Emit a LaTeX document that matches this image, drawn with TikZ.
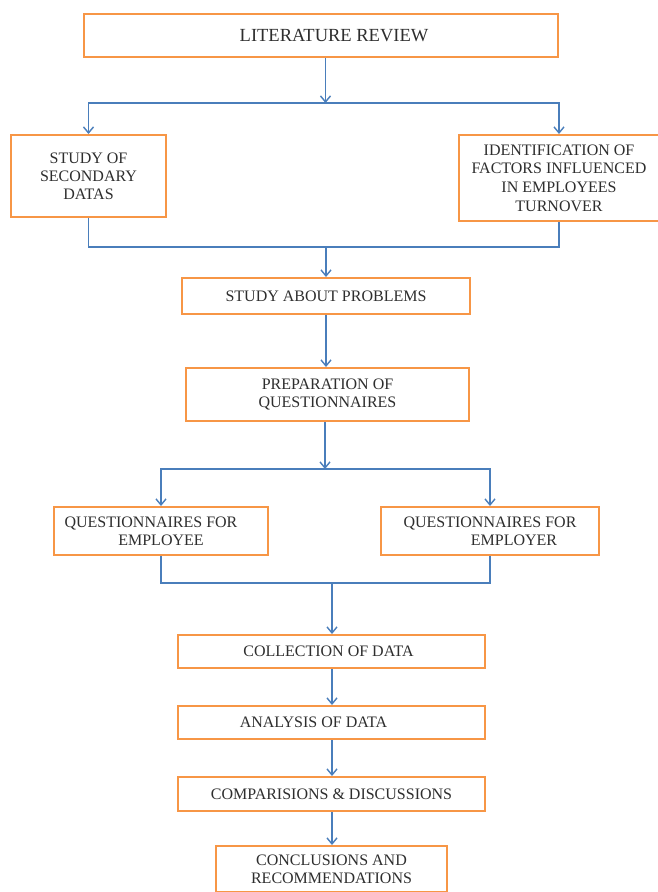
\documentclass[tikz,border=0pt]{standalone}
\usepackage{fontspec}
\setmainfont{Liberation Serif}
\usetikzlibrary{arrows.meta}
\definecolor{boxorange}{HTML}{F79646}
\definecolor{lineblue}{HTML}{4A7EBB}
\definecolor{txtgray}{HTML}{2E2E2E}
\begin{document}
\begin{tikzpicture}[x=1pt,y=-1pt,
  box/.style={draw=boxorange,line width=2pt,fill=white,inner sep=0pt,align=center,
    text=txtgray,font=\fontsize{16}{18}\selectfont},
  conn/.style={draw=lineblue,line width=1.5pt},
  arr/.style={conn,-{Straight Barb[length=6pt,width=10pt,line width=1.4pt]}}]
\useasboundingbox (0,0) rectangle (658,892);
% boxes
\node[box,minimum width=474pt,minimum height=43pt,font=\fontsize{18.5}{20}\selectfont] (lr) at (321,35.5) {\hspace*{26pt}LITERATURE REVIEW};
\node[box,minimum width=155pt,minimum height=82pt] (sec) at (88.5,176) {STUDY OF\\SECONDARY\\DATAS};
\node[box,minimum width=200pt,minimum height=86pt,font=\fontsize{16}{18.6}\selectfont] (fac) at (559,178) {IDENTIFICATION OF\\FACTORS INFLUENCED\\IN EMPLOYEES\\TURNOVER};
\node[box,minimum width=288pt,minimum height=36pt] (prob) at (326,296) {STUDY ABOUT PROBLEMS};
\node[box,minimum width=283pt,minimum height=53pt] (prep) at (327.5,394.5) {PREPARATION OF\\QUESTIONNAIRES};
\node[box,minimum width=214pt,minimum height=48pt] (qee) at (161,531) {\hspace*{-20pt}QUESTIONNAIRES FOR\\EMPLOYEE};
\node[box,minimum width=218pt,minimum height=48pt] (qer) at (490,531) {QUESTIONNAIRES FOR\\\hspace*{48pt}EMPLOYER};
\node[box,minimum width=307pt,minimum height=33pt] (col) at (331.5,651.5) {COLLECTION OF DATA\hspace*{6pt}};
\node[box,minimum width=307pt,minimum height=33pt] (ana) at (331.5,722.5) {ANALYSIS OF DATA\hspace*{36pt}};
\node[box,minimum width=307pt,minimum height=34pt] (cmp) at (331.5,794) {COMPARISIONS \& DISCUSSIONS};
\node[box,minimum width=231pt,minimum height=46pt] (con) at (331.5,869) {CONCLUSIONS AND\\RECOMMENDATIONS};
% junctions
\coordinate (j1) at (325.5,103);
\coordinate (j2) at (326,247);
\coordinate (j3) at (325,469);
\coordinate (j4) at (332,583);
% connectors
\draw[arr] (lr.south -| j1) -- (j1);
\draw[arr] (j1) -| (sec.north);
\draw[arr] (j1) -| (fac.north);
\draw[conn] (sec.south) |- (j2) -| (fac.south);
\draw[arr] (j2) -- (prob.north -| j2);
\draw[arr] (prob.south) -- (prob.south |- prep.north);
\draw[arr] (prep.south -| j3) -- (j3);
\draw[arr] (j3) -| (qee.north);
\draw[arr] (j3) -| (qer.north);
\draw[conn] (qee.south) |- (j4) -| (qer.south);
\draw[arr] (j4) -- (col.north -| j4);
\draw[arr] (col.south -| j4) -- (ana.north -| j4);
\draw[arr] (ana.south -| j4) -- (cmp.north -| j4);
\draw[arr] (cmp.south -| j4) -- (con.north -| j4);
\end{tikzpicture}
\end{document}
